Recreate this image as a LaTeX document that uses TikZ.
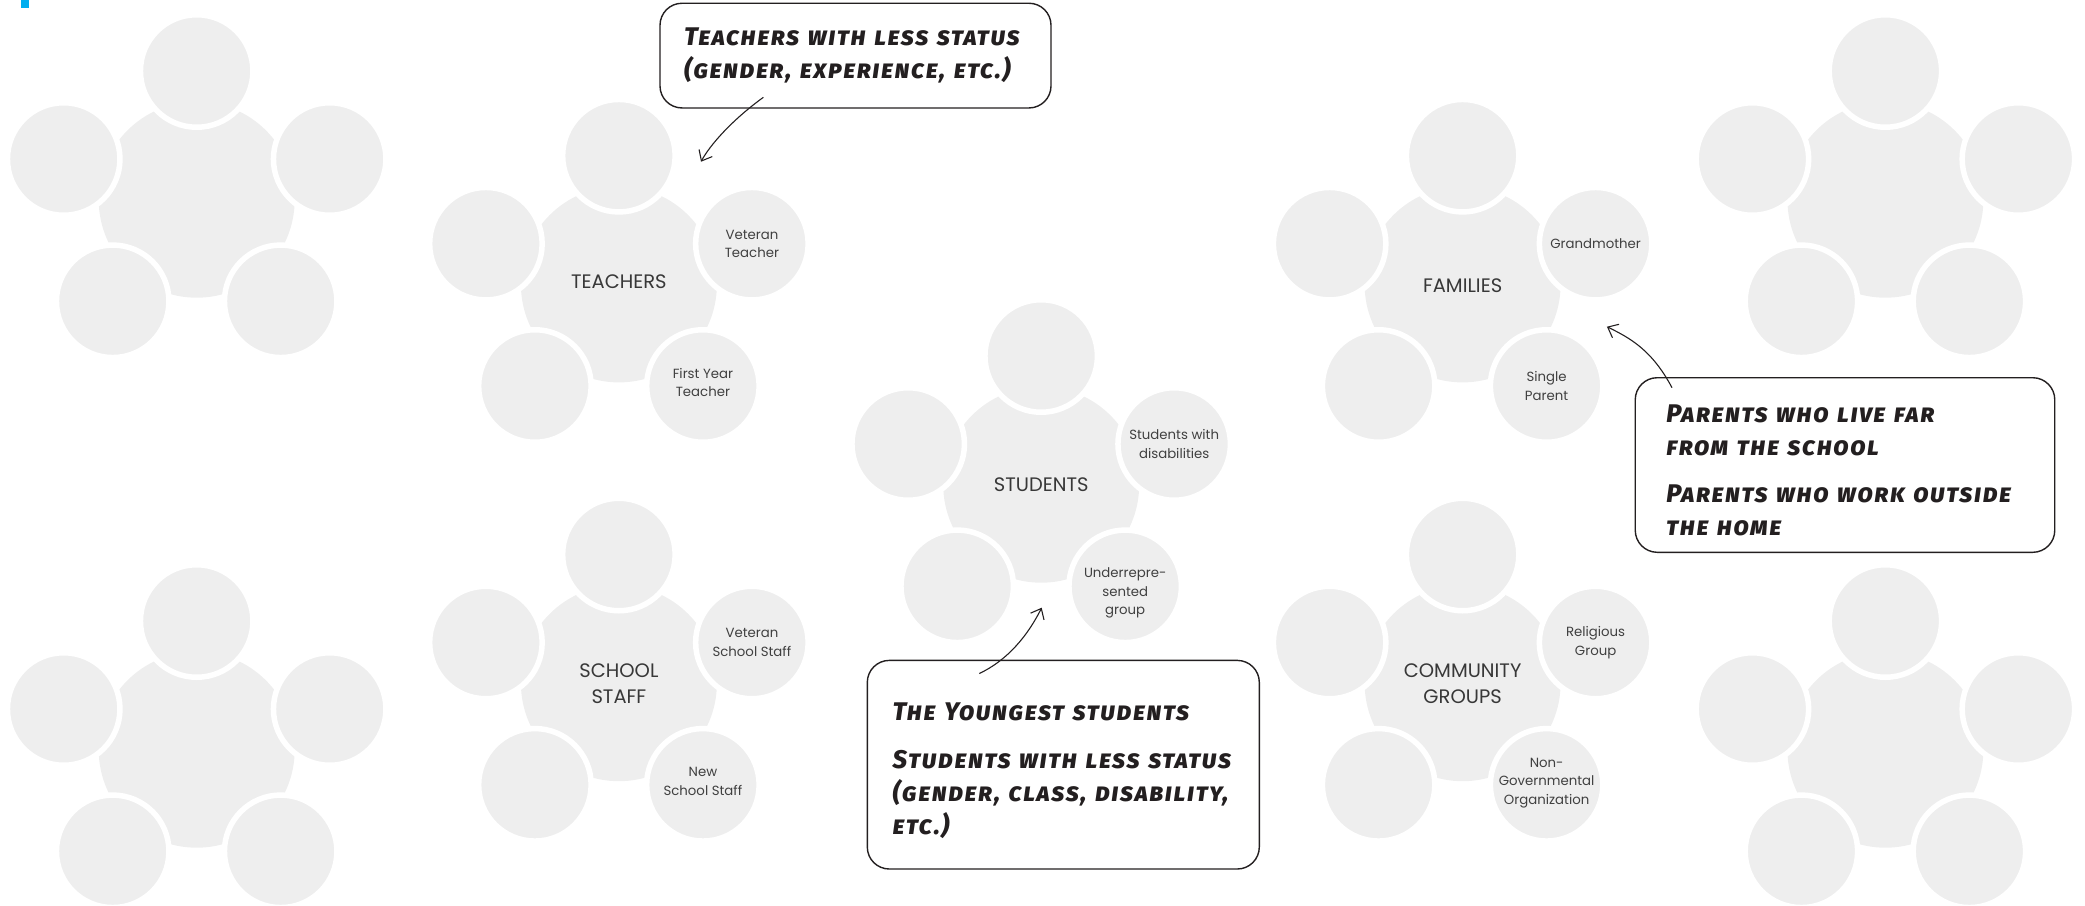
\documentclass[tikz,border=0pt]{standalone}
\usepackage{fontspec}
\usetikzlibrary{arrows.meta}
\setmainfont{Poppins}
\newfontfamily\hand[Letters=SmallCaps,LetterSpace=6]{Fira Sans ExtraBold Italic}
\definecolor{fillgray}{HTML}{EEEEEE}
\definecolor{ink}{HTML}{231F20}
\definecolor{blue1}{HTML}{00AEEF}
\newcommand{\dn}[1]{\rule{0pt}{#1}}
\newcommand{\up}[1]{\rule[-#1]{0pt}{#1}}
\tikzset{
  hubdisc/.style={circle,fill=fillgray,inner sep=0pt,minimum size=196pt,align=center,text=black!78,font=\fontsize{19.5}{26}\selectfont},
  sat/.style={circle,fill=fillgray,draw=white,line width=5.5pt,inner sep=0pt,minimum size=112.5pt,align=center,text=black!75,font=\fontsize{13.3}{18.5}\selectfont},
  callout/.style={draw=ink,line width=1.4pt,rounded corners=22pt,align=left,text=ink,font=\hand\fontsize{25.5}{33}\selectfont},
  pointer/.style={draw=ink,line width=1.1pt,-{Straight Barb[length=9pt,width=15pt,line width=1.1pt]}},
}
\newcommand{\cluster}[6]{%
  \begin{scope}[shift={(#2,#3)}]
    \node[hubdisc] (#1hub) at (0,0) {#4};
    \node[sat] (#1t) at (0,-128.7) {};
    \node[sat] (#1l) at (-133,-40.7) {};
    \node[sat] (#1r) at (133,-40.7) {#5};
    \node[sat] (#1bl) at (-84,101.6) {};
    \node[sat] (#1br) at (84,101.6) {#6};
  \end{scope}}
\begin{document}
\begin{tikzpicture}[x=1pt,y=-1pt]
\useasboundingbox (0,0) rectangle (2085,905);
\fill[blue1] (21.3,0) rectangle (28.7,8);
\cluster{a}{196.7}{199.7}{}{}{}
\cluster{b}{1885.4}{199.7}{}{}{}
\cluster{c}{196.7}{749.7}{}{}{}
\cluster{d}{1885.4}{749.7}{}{}{}
\cluster{teach}{618.9}{284.4}{TEACHERS\up{5pt}}{Veteran\\Teacher}{First Year\\Teacher\up{7pt}}
\cluster{fam}{1462.6}{284.4}{\dn{17pt}FAMILIES}{Grandmother}{Single\\Parent}
\cluster{stud}{1041.2}{484.7}{STUDENTS}{Students with\\disabilities}{\dn{23pt}Underrepre-\\sented\\group}
\cluster{staff}{618.9}{683.2}{SCHOOL\\STAFF}{Veteran\\School Staff}{New\\School Staff\up{7pt}}
\cluster{comm}{1462.6}{683.2}{COMMUNITY\\GROUPS}{Religious\\Group}{Non-\\Governmental\\Organization\up{7pt}}
\node[callout,inner xsep=24pt,text width=343pt,minimum height=104.7pt] (tbox) at (855.5,55.6) {Teachers with less status\\(gender, experience, etc.)};
\node[callout,inner xsep=25.4pt,text width=341.2pt,minimum height=208.6pt] (sbox) at (1063.3,764.7) {\dn{30pt}The Youngest students\\[15pt]Students with less status\\(gender, class, disability,\\etc.)};
\node[callout,inner xsep=31pt,text width=357.5pt,minimum height=174.6pt] (fbox) at (1845,465) {\dn{28pt}Parents who live far\\from the school\\[14pt]Parents who work outside\\the home};
\coordinate (ta) at (763.4,97.3);
\coordinate (tb) at (701,161.7);
\coordinate (sa) at (979.3,673.5);
\coordinate (sb) at (1041.7,607.7);
\coordinate (fa) at (1672,387.7);
\coordinate (fb) at (1606.9,326.7);
\draw[pointer] (ta) .. controls (732,120) and (710,145) .. (tb);
\draw[pointer] (sa) .. controls (1008,660) and (1028,635) .. (sb);
\draw[pointer] (fa) .. controls (1652,350) and (1630,338) .. (fb);
\end{tikzpicture}
\end{document}
